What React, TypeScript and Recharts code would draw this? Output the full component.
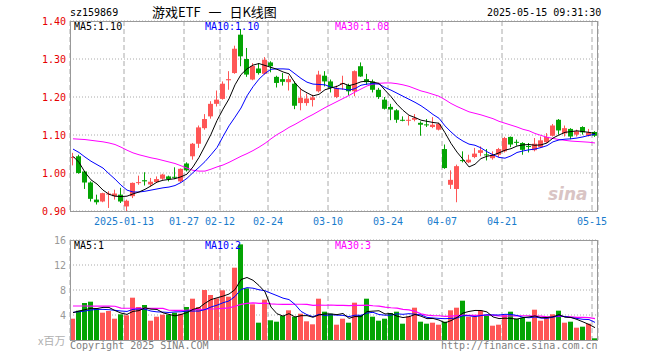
import React from 'react'
import { ComposedChart, Bar, Line, XAxis, YAxis, CartesianGrid } from 'recharts'

// 游戏ETF (sz159869) 日K, 2024-12-30 ~ 2025-05-15
const dates = [
  '2024-12-30', '2024-12-31', '2025-01-02', '2025-01-03', '2025-01-06', '2025-01-07', '2025-01-08', '2025-01-09', '2025-01-10', '2025-01-13',
  '2025-01-14', '2025-01-15', '2025-01-16', '2025-01-17', '2025-01-20', '2025-01-21', '2025-01-22', '2025-01-23', '2025-01-24', '2025-01-27',
  '2025-02-05', '2025-02-06', '2025-02-07', '2025-02-10', '2025-02-11', '2025-02-12', '2025-02-13', '2025-02-14', '2025-02-17', '2025-02-18',
  '2025-02-19', '2025-02-20', '2025-02-21', '2025-02-24', '2025-02-25', '2025-02-26', '2025-02-27', '2025-02-28', '2025-03-03', '2025-03-04',
  '2025-03-05', '2025-03-06', '2025-03-07', '2025-03-10', '2025-03-11', '2025-03-12', '2025-03-13', '2025-03-14', '2025-03-17', '2025-03-18',
  '2025-03-19', '2025-03-20', '2025-03-21', '2025-03-24', '2025-03-25', '2025-03-26', '2025-03-27', '2025-03-28', '2025-03-31', '2025-04-01',
  '2025-04-02', '2025-04-03', '2025-04-07', '2025-04-08', '2025-04-09', '2025-04-10', '2025-04-11', '2025-04-14', '2025-04-15', '2025-04-16',
  '2025-04-17', '2025-04-18', '2025-04-21', '2025-04-22', '2025-04-23', '2025-04-24', '2025-04-25', '2025-04-28', '2025-04-29', '2025-04-30',
  '2025-05-06', '2025-05-07', '2025-05-08', '2025-05-09', '2025-05-12', '2025-05-13', '2025-05-14', '2025-05-15',
]

const open = [
  1.040, 1.044, 1.004, 0.975, 0.930, 0.925, 0.944, 0.939, 0.943, 0.912,
  0.939, 0.974, 0.981, 0.970, 0.976, 0.985, 0.991, 0.990, 0.978, 1.025,
  1.044, 1.077, 1.118, 1.149, 1.182, 1.195, 1.244, 1.263, 1.364, 1.300,
  1.246, 1.275, 1.261, 1.291, 1.253, 1.247, 1.239, 1.235, 1.184, 1.184,
  1.192, 1.215, 1.256, 1.241, 1.200, 1.235, 1.231, 1.215, 1.281, 1.247,
  1.241, 1.219, 1.193, 1.174, 1.165, 1.140, 1.139, 1.140, 1.132, 1.128,
  1.121, 1.114, 1.063, 0.969, 0.958, 1.034, 1.028, 1.042, 1.053, 1.049,
  1.039, 1.048, 1.057, 1.095, 1.082, 1.079, 1.071, 1.060, 1.068, 1.081,
  1.098, 1.140, 1.104, 1.116, 1.101, 1.121, 1.098, 1.108,
]
const high = [
  1.053, 1.048, 1.005, 0.978, 0.943, 0.948, 0.952, 0.956, 0.961, 0.930,
  0.975, 0.993, 1.002, 0.987, 0.991, 0.998, 0.993, 1.015, 1.012, 1.028,
  1.079, 1.125, 1.155, 1.189, 1.217, 1.241, 1.268, 1.335, 1.379, 1.329,
  1.289, 1.289, 1.305, 1.294, 1.256, 1.263, 1.256, 1.241, 1.224, 1.209,
  1.206, 1.269, 1.268, 1.246, 1.230, 1.256, 1.235, 1.270, 1.291, 1.261,
  1.246, 1.224, 1.200, 1.182, 1.168, 1.149, 1.151, 1.155, 1.136, 1.142,
  1.147, 1.132, 1.075, 1.007, 1.022, 1.057, 1.048, 1.066, 1.070, 1.063,
  1.057, 1.066, 1.095, 1.096, 1.088, 1.081, 1.079, 1.092, 1.096, 1.105,
  1.129, 1.142, 1.125, 1.118, 1.114, 1.123, 1.116, 1.110,
]
const low = [
  1.020, 0.998, 0.958, 0.925, 0.917, 0.923, 0.908, 0.930, 0.921, 0.899,
  0.934, 0.969, 0.967, 0.965, 0.974, 0.982, 0.978, 0.984, 0.975, 1.004,
  1.035, 1.066, 1.114, 1.143, 1.175, 1.193, 1.219, 1.261, 1.281, 1.253,
  1.244, 1.259, 1.259, 1.265, 1.225, 1.230, 1.217, 1.168, 1.165, 1.177,
  1.175, 1.212, 1.228, 1.212, 1.197, 1.219, 1.204, 1.202, 1.253, 1.232,
  1.212, 1.195, 1.167, 1.139, 1.132, 1.136, 1.125, 1.136, 1.098, 1.121,
  1.118, 1.112, 1.011, 0.958, 0.923, 1.028, 1.026, 1.039, 1.044, 1.033,
  1.035, 1.042, 1.054, 1.068, 1.072, 1.048, 1.054, 1.057, 1.066, 1.079,
  1.096, 1.101, 1.096, 1.089, 1.096, 1.101, 1.096, 1.095,
]
const close = [
  1.042, 1.000, 0.975, 0.932, 0.923, 0.947, 0.946, 0.946, 0.925, 0.927,
  0.974, 0.976, 0.978, 0.977, 0.984, 0.996, 0.984, 0.989, 1.011, 1.007,
  1.077, 1.120, 1.142, 1.182, 1.193, 1.235, 1.247, 1.327, 1.307, 1.259,
  1.282, 1.263, 1.298, 1.281, 1.237, 1.240, 1.247, 1.177, 1.198, 1.196,
  1.199, 1.259, 1.241, 1.224, 1.224, 1.237, 1.215, 1.268, 1.254, 1.239,
  1.219, 1.200, 1.169, 1.167, 1.140, 1.139, 1.140, 1.145, 1.127, 1.127,
  1.127, 1.129, 1.013, 0.982, 1.018, 1.033, 1.035, 1.051, 1.060, 1.047,
  1.048, 1.063, 1.092, 1.075, 1.081, 1.061, 1.070, 1.077, 1.086, 1.095,
  1.125, 1.112, 1.118, 1.096, 1.110, 1.107, 1.107, 1.098,
]

// 价格均线
const ma5 = [
  1.044, 1.028, 1.002, 0.982, 0.971, 0.955, 0.944, 0.939, 0.938, 0.939,
  0.945, 0.950, 0.957, 0.966, 0.976, 0.981, 0.983, 0.985, 0.990, 0.997,
  1.016, 1.041, 1.071, 1.102, 1.138, 1.168, 1.195, 1.232, 1.259, 1.274,
  1.284, 1.288, 1.283, 1.278, 1.273, 1.266, 1.261, 1.237, 1.220, 1.211,
  1.203, 1.207, 1.219, 1.224, 1.228, 1.236, 1.230, 1.234, 1.240, 1.242,
  1.239, 1.236, 1.218, 1.201, 1.181, 1.165, 1.152, 1.146, 1.139, 1.136,
  1.133, 1.131, 1.106, 1.078, 1.055, 1.036, 1.016, 1.023, 1.038, 1.044,
  1.047, 1.053, 1.060, 1.064, 1.071, 1.074, 1.075, 1.073, 1.074, 1.079,
  1.092, 1.100, 1.107, 1.109, 1.111, 1.109, 1.107, 1.104,
]
const ma10 = [
  1.063, 1.054, 1.042, 1.031, 1.022, 1.013, 0.998, 0.984, 0.968, 0.955,
  0.950, 0.950, 0.952, 0.955, 0.958, 0.961, 0.963, 0.967, 0.975, 0.986,
  1.001, 1.015, 1.030, 1.048, 1.067, 1.096, 1.124, 1.147, 1.171, 1.203,
  1.227, 1.247, 1.262, 1.273, 1.274, 1.274, 1.273, 1.261, 1.249, 1.239,
  1.234, 1.233, 1.232, 1.226, 1.222, 1.221, 1.218, 1.222, 1.231, 1.234,
  1.235, 1.234, 1.225, 1.218, 1.210, 1.202, 1.194, 1.186, 1.177, 1.166,
  1.154, 1.144, 1.124, 1.108, 1.094, 1.084, 1.076, 1.073, 1.066, 1.056,
  1.048, 1.041, 1.039, 1.045, 1.054, 1.058, 1.061, 1.063, 1.067, 1.072,
  1.082, 1.087, 1.089, 1.090, 1.092, 1.095, 1.099, 1.102,
]
const ma30 = [
  1.090, 1.089, 1.088, 1.086, 1.084, 1.082, 1.079, 1.075, 1.068, 1.060,
  1.053, 1.048, 1.044, 1.040, 1.037, 1.033, 1.029, 1.025, 1.019, 1.013,
  1.007, 1.005, 1.005, 1.010, 1.016, 1.021, 1.028, 1.036, 1.044, 1.051,
  1.059, 1.068, 1.078, 1.090, 1.101, 1.110, 1.120, 1.128, 1.137, 1.146,
  1.154, 1.163, 1.172, 1.180, 1.188, 1.196, 1.204, 1.213, 1.221, 1.229,
  1.234, 1.236, 1.237, 1.237, 1.235, 1.232, 1.228, 1.222, 1.216, 1.212,
  1.207, 1.202, 1.193, 1.183, 1.175, 1.168, 1.161, 1.157, 1.153, 1.148,
  1.143, 1.136, 1.131, 1.126, 1.121, 1.115, 1.111, 1.104, 1.099, 1.094,
  1.091, 1.088, 1.086, 1.084, 1.083, 1.082, 1.081, 1.079,
]

// 成交量 (百万)
const volume = [
  3.41, 4.69, 5.92, 6.13, 5.01, 4.37, 4.64, 3.41, 4.11, 3.95,
  6.77, 5.28, 5.60, 3.09, 3.73, 4.05, 4.05, 4.37, 4.21, 5.28,
  6.61, 5.28, 8.00, 7.20, 6.67, 7.95, 6.93, 11.57, 15.30, 8.27,
  5.71, 2.77, 6.45, 3.15, 2.93, 3.84, 4.75, 3.73, 4.21, 2.99,
  2.51, 6.61, 4.53, 4.20, 2.45, 3.41, 2.77, 5.97, 4.00, 6.61,
  3.73, 3.09, 3.41, 4.32, 4.53, 2.61, 3.79, 5.17, 2.93, 2.61,
  2.77, 2.45, 2.93, 4.75, 5.17, 6.29, 3.73, 3.73, 4.69, 4.00,
  2.29, 2.45, 4.00, 4.53, 3.41, 3.57, 2.93, 4.85, 3.09, 3.57,
  4.11, 4.69, 2.77, 2.93, 1.97, 2.13, 2.61, 0.27,
]
const volMa5 = [
  4.37, 4.64, 4.85, 5.07, 5.03, 5.22, 5.21, 4.71, 4.31, 4.10,
  4.58, 4.70, 5.14, 4.94, 4.89, 4.35, 4.10, 3.86, 4.08, 4.39,
  4.90, 5.15, 5.88, 6.47, 6.75, 7.02, 7.35, 8.06, 9.68, 10.00,
  9.56, 8.72, 7.70, 5.27, 4.20, 3.83, 4.22, 3.68, 3.89, 3.90,
  3.64, 4.01, 4.17, 4.17, 4.06, 4.24, 3.47, 3.76, 3.72, 4.55,
  4.62, 4.68, 4.17, 4.23, 3.82, 3.59, 3.73, 4.08, 3.81, 3.42,
  3.45, 3.19, 2.74, 3.10, 3.61, 4.32, 4.57, 4.73, 4.72, 4.49,
  3.69, 3.43, 3.49, 3.45, 3.34, 3.59, 3.69, 3.86, 3.57, 3.60,
  3.71, 4.06, 3.65, 3.61, 3.29, 2.90, 2.48, 1.98,
]
const volMa10 = [
  4.43, 4.53, 4.64, 4.80, 4.90, 4.90, 4.85, 4.75, 4.64, 4.57,
  4.90, 4.96, 4.93, 4.63, 4.50, 4.47, 4.40, 4.50, 4.51, 4.64,
  4.63, 4.63, 4.87, 5.28, 5.57, 5.96, 6.25, 6.97, 8.08, 8.38,
  8.29, 8.04, 7.88, 7.48, 7.10, 6.70, 6.47, 5.69, 4.58, 4.05,
  3.74, 4.12, 3.93, 4.03, 3.98, 3.94, 3.74, 3.97, 3.95, 4.31,
  4.43, 4.08, 3.97, 3.98, 4.19, 4.11, 4.21, 4.13, 4.02, 3.62,
  3.52, 3.46, 3.41, 3.46, 3.52, 3.89, 3.88, 3.74, 3.91, 4.05,
  4.01, 4.00, 4.11, 4.09, 3.92, 3.64, 3.56, 3.68, 3.51, 3.47,
  3.65, 3.88, 3.76, 3.59, 3.45, 3.31, 3.27, 2.82,
]
const volMa30 = [
  5.44, 5.44, 5.44, 5.43, 5.43, 5.42, 5.42, 5.40, 5.10, 5.08,
  5.08, 5.07, 5.07, 5.06, 5.06, 5.05, 4.76, 4.75, 4.75, 4.76,
  4.85, 4.88, 4.92, 4.96, 5.00, 5.07, 5.15, 5.40, 5.70, 5.86,
  5.94, 5.87, 5.89, 5.79, 5.72, 5.71, 5.71, 5.72, 5.72, 5.69,
  5.55, 5.59, 5.56, 5.60, 5.55, 5.53, 5.49, 5.54, 5.53, 5.58,
  5.48, 5.41, 5.26, 5.16, 5.09, 4.91, 4.81, 4.59, 4.18, 3.99,
  3.89, 3.88, 3.77, 3.82, 3.89, 3.98, 3.94, 3.94, 3.96, 3.99,
  3.98, 3.85, 3.83, 3.84, 3.87, 3.88, 3.88, 3.84, 3.81, 3.71,
  3.73, 3.78, 3.76, 3.71, 3.63, 3.61, 3.57, 3.41,
]

const tickDates = ['2025-01-13', '2025-01-27', '2025-02-12', '2025-02-24', '2025-03-10', '2025-03-24', '2025-04-07', '2025-04-21', '2025-05-15']
const priceTicks = [0.9, 1.0, 1.1, 1.2, 1.3, 1.4]
const volTicks = [0, 4, 8, 12, 16]

const UP = '#ff5656'
const DOWN = '#04a404'
const MONO = '"DejaVu Sans Mono", monospace'
const CJK = '"Noto Sans CJK SC", sans-serif'

const tickIdx = tickDates.map(d => dates.indexOf(d))

const rows = dates.map((d, i) => ({
  x: i + 0.5,
  date: d,
  open: open[i],
  high: high[i],
  low: low[i],
  close: close[i],
  range: [low[i], high[i]],
  ma5: ma5[i],
  ma10: ma10[i],
  ma30: ma30[i],
  vol: volume[i],
  vma5: volMa5[i],
  vma10: volMa10[i],
  vma30: volMa30[i],
}))

function Candle(props: any) {
  const { x, y, width, height, payload } = props
  if (!payload) return null
  const top = Math.min(y, y + height)
  const h = Math.abs(height)
  const k = h / (payload.high - payload.low)
  const yOf = (v: number) => top + (payload.high - v) * k
  const color = payload.close >= payload.open ? UP : DOWN
  const c = Math.round(x + width / 2)
  const bTop = yOf(Math.max(payload.open, payload.close))
  const bBot = yOf(Math.min(payload.open, payload.close))
  return (
    <g>
      <line x1={c - 0.5} x2={c - 0.5} y1={top} y2={top + h} stroke={color} strokeWidth={1} />
      <rect x={c - 3} y={bTop} width={5} height={Math.max(1, bBot - bTop)} fill={color} />
    </g>
  )
}

function VolBar(props: any) {
  const { x, y, width, height, payload } = props
  if (!payload) return null
  const c = Math.round(x + width / 2)
  const color = payload.close >= payload.open ? UP : DOWN
  return <rect x={c - 3} y={y} width={5} height={Math.max(0, height)} fill={color} />
}

function DateTick(props: any) {
  const { x, y, payload } = props
  const i = payload.value
  const d = dates[i] || ''
  const label = i === tickIdx[0] ? d : d.slice(5)
  return (
    <text x={x} y={y} dy={14} textAnchor="middle" fill="#1a7ccc" fontSize={10} fontFamily={MONO}>
      {label}
    </text>
  )
}

function Txt({ left, top, color, size = 10, font = MONO, children, style }: any) {
  return (
    <div
      style={{
        position: 'absolute', left, top, color, fontSize: size, fontFamily: font,
        lineHeight: '12px', whiteSpace: 'pre', ...style,
      }}
    >
      {children}
    </div>
  )
}

const frame = (top: number, height: number): React.CSSProperties => ({
  position: 'absolute', left: 70, top, width: 528, height, border: '1px solid #999',
  boxSizing: 'border-box', pointerEvents: 'none',
})

export default function App() {
  return (
    <div style={{ position: 'absolute', left: 0, top: 0, width: 660, height: 360, background: '#fff', overflow: 'hidden' }}>
      {/* 日K */}
      <div style={{ position: 'absolute', left: 0, top: 0 }}>
        <ComposedChart width={660} height={231} data={rows} margin={{ top: 21, right: 62, bottom: 0, left: 30 }}>
          <CartesianGrid vertical={false} stroke="#aaa" strokeDasharray="1 2" />
          <CartesianGrid horizontal={false} stroke="#aaa" strokeDasharray="5 3" />
          <XAxis
            dataKey="x" type="number" domain={[0, 88]} ticks={tickIdx} allowDataOverflow interval={0}
            height={20} axisLine={false} tickLine={false} tickSize={0} tickMargin={0} tick={<DateTick />}
          />
          <YAxis
            domain={[0.9, 1.4]} ticks={priceTicks} allowDataOverflow width={40} interval={0}
            axisLine={false} tickLine={false} tickSize={0} tickMargin={4}
            tick={{ fill: '#e60000', fontSize: 10, fontFamily: MONO }}
            tickFormatter={(v: number) => v.toFixed(2)}
          />
          <Bar dataKey="range" barSize={5} shape={<Candle />} isAnimationActive={false} />
          <Line type="linear" dataKey="ma30" stroke="#ff00ff" strokeWidth={1} dot={false} isAnimationActive={false} />
          <Line type="linear" dataKey="ma10" stroke="#0000ff" strokeWidth={1} dot={false} isAnimationActive={false} />
          <Line type="linear" dataKey="ma5" stroke="#000000" strokeWidth={1} dot={false} isAnimationActive={false} />
        </ComposedChart>
      </div>

      {/* 成交量 */}
      <div style={{ position: 'absolute', left: 0, top: 230 }}>
        <ComposedChart width={660} height={111} data={rows} margin={{ top: 10, right: 62, bottom: 1, left: 30 }}>
          <CartesianGrid vertical={false} stroke="#aaa" strokeDasharray="1 2" />
          <CartesianGrid horizontal={false} stroke="#aaa" strokeDasharray="5 3" />
          <XAxis dataKey="x" type="number" domain={[0, 88]} ticks={tickIdx} allowDataOverflow interval={0} hide />
          <YAxis
            domain={[0, 16]} ticks={volTicks} allowDataOverflow width={40} interval={0}
            axisLine={false} tickLine={false} tickSize={0} tickMargin={4}
            tick={{ fill: '#999', fontSize: 10, fontFamily: MONO }}
            tickFormatter={(v: number) => (v === 0 ? '' : String(v))}
          />
          <Bar dataKey="vol" barSize={5} shape={<VolBar />} isAnimationActive={false} />
          <Line type="linear" dataKey="vma30" stroke="#ff00ff" strokeWidth={1.2} dot={false} isAnimationActive={false} />
          <Line type="linear" dataKey="vma10" stroke="#0000ff" strokeWidth={1} dot={false} isAnimationActive={false} />
          <Line type="linear" dataKey="vma5" stroke="#000000" strokeWidth={1} dot={false} isAnimationActive={false} />
        </ComposedChart>
      </div>

      <div style={frame(21, 191)} />
      <div style={frame(240, 101)} />

      {/* 标题 */}
      <Txt left={70} top={7} color="#000">sz159869</Txt>
      <Txt left={152} top={5} color="#000" size={13} font={CJK} style={{ lineHeight: '14px', wordSpacing: 5 }}>
        游戏ETF 一 日K线图
      </Txt>
      <Txt left={487} top={7} color="#000">2025-05-15 09:31:30</Txt>

      {/* 均线图例 */}
      <Txt left={74} top={21} color="#000">MA5:1.10</Txt>
      <Txt left={205} top={21} color="#0000ff">MA10:1.10</Txt>
      <Txt left={335} top={21} color="#ff00ff">MA30:1.08</Txt>

      <Txt left={74} top={240} color="#000">MA5:1</Txt>
      <Txt left={205} top={240} color="#0000ff">MA10:2</Txt>
      <Txt left={335} top={240} color="#ff00ff">MA30:3</Txt>

      <Txt left={548} top={184} color="#d9c4c4" size={17} font='"DejaVu Sans", sans-serif' style={{ fontStyle: 'italic', fontWeight: 'bold', lineHeight: '20px' }}>
        sina
      </Txt>

      <Txt left={38} top={333} color="#b0b0b0" size={11} font={CJK} style={{ lineHeight: '14px' }}>
        x百万
      </Txt>
      <Txt left={70} top={340} color="#808080">Copyright 2025 SINA.COM</Txt>
      <Txt left={441} top={340} color="#808080">http://finance.sina.com.cn</Txt>
    </div>
  )
}
